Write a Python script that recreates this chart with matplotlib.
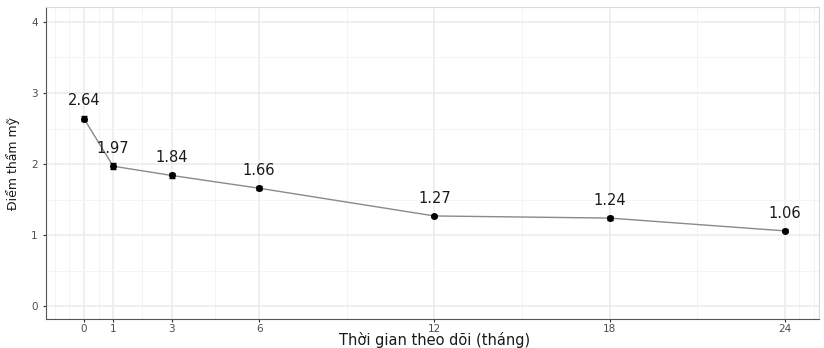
import matplotlib.pyplot as plt
import numpy as np

plt.rcParams['font.family'] = ['DejaVu Sans']

# data
months = [0, 1, 3, 6, 12, 18, 24]
scores = [2.64, 1.97, 1.84, 1.66, 1.27, 1.24, 1.06]
errors = [0.03, 0.04, 0.04, 0.03, 0.02, 0.03, 0.02]
labels = ["2.64", "1.97", "1.84", "1.66", "1.27", "1.24", "1.06"]
minor_x = [-1, -0.5, 0.5, 2, 4.5, 9, 15, 21, 24.5, 25]

fig = plt.figure(figsize=(8.24, 3.48), dpi=100)
ax = fig.add_axes([0.0558, 0.0833, 0.9381, 0.8966])

ax.plot(months, scores, color='#8a8a8a', lw=1.0, zorder=3)
ax.errorbar(months, scores, yerr=errors, fmt='o', color='black', ms=4,
            capsize=2.5, elinewidth=1, capthick=1, zorder=4)
for m, s, t in zip(months, scores, labels):
    ax.text(m, s + 0.25, t, ha='center', va='center', fontsize=10.5, color='#1a1a1a')

ax.set_xlim(-1.3, 25.17)
ax.set_ylim(-0.18, 4.21)
ax.set_xticks(months)
ax.set_yticks([0, 1, 2, 3, 4])
ax.set_xticks(minor_x, minor=True)
ax.set_yticks([0.5, 1.5, 2.5, 3.5], minor=True)
ax.grid(which='major', color='#ebebeb', lw=1.1)
ax.grid(which='minor', color='#f2f2f2', lw=0.6)
ax.set_axisbelow(True)
ax.tick_params(which='major', length=2.5, color='#333333', labelsize=7.5, labelcolor='#4d4d4d')
ax.tick_params(axis='x', pad=1)
ax.tick_params(which='minor', length=0)

for side in ['top', 'right']:
    ax.spines[side].set_color('#d9d9d9')
for side in ['left', 'bottom']:
    ax.spines[side].set_color('#555555')

fig.text(435 / 824, 1 - 340.5 / 348, "Thời gian theo dõi (tháng)", fontsize=10.5,
         ha='center', va='center', color='#1a1a1a')
ax.set_ylabel("Điểm thẩm mỹ", fontsize=9, labelpad=8, color='#1a1a1a')

fig.savefig("out.png", dpi=100)
